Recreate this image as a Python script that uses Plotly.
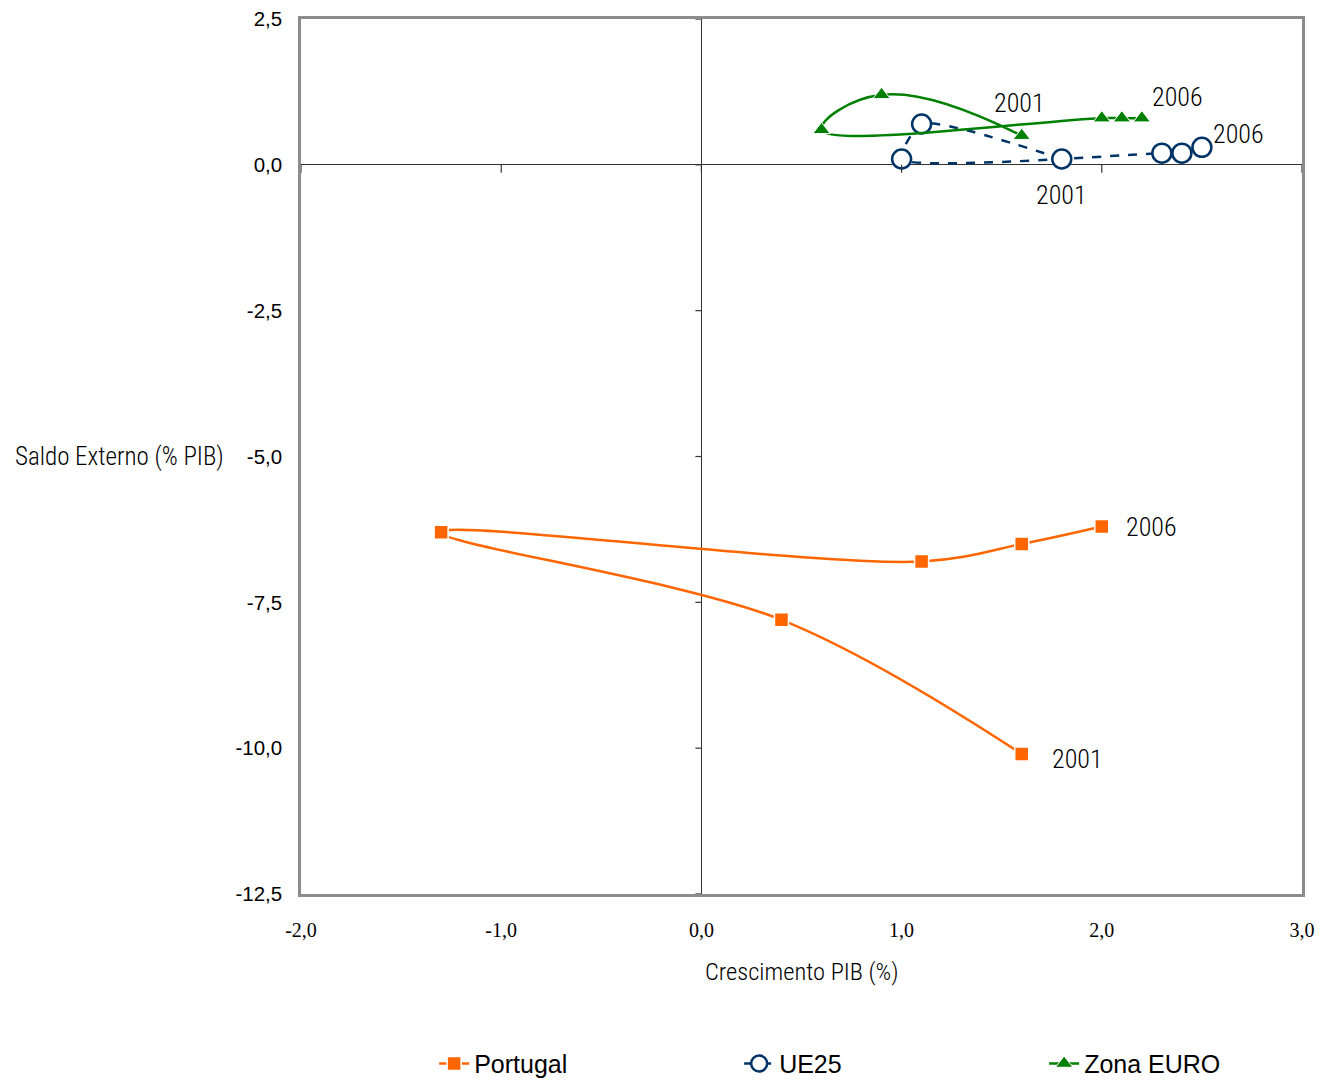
import plotly.graph_objects as go

years = [2001, 2002, 2003, 2004, 2005, 2006]

pt_x = [1.6, 0.4, -1.3, 1.1, 1.6, 2.0]
pt_y = [-10.1, -7.8, -6.3, -6.8, -6.5, -6.2]

ue_x = [1.8, 1.1, 1.0, 2.3, 2.4, 2.5]
ue_y = [0.1, 0.7, 0.1, 0.2, 0.2, 0.3]

ez_x = [1.6, 0.9, 0.6, 2.0, 2.1, 2.2]
ez_y = [0.5, 1.2, 0.6, 0.8, 0.8, 0.8]

x_ticks = [-2, -1, 0, 1, 2, 3]
x_tick_labels = ["-2,0", "-1,0", "0,0", "1,0", "2,0", "3,0"]
y_ticks = [2.5, 0, -2.5, -5, -7.5, -10, -12.5]
y_tick_labels = ["2,5", "0,0", "-2,5", "-5,0", "-7,5", "-10,0", "-12,5"]

ORANGE = "#FF6600"
NAVY = "#003366"
GREEN = "#008000"
NARROW = "Roboto Condensed, Liberation Sans Narrow, Arial Narrow, sans-serif"

fig = go.Figure()
fig.add_trace(go.Scatter(
    x=pt_x, y=pt_y, name="Portugal", mode="lines+markers",
    line=dict(color=ORANGE, width=2.5, shape="spline", smoothing=1),
    marker=dict(symbol="square", size=14, color=ORANGE, line=dict(color="white", width=1.5)),
))
fig.add_trace(go.Scatter(
    x=ue_x, y=ue_y, name="UE25", mode="lines+markers",
    line=dict(color=NAVY, width=2.5, dash="dash", shape="spline", smoothing=0.6),
    marker=dict(symbol="circle", size=19, color="white", line=dict(color=NAVY, width=2.5)),
))
fig.add_trace(go.Scatter(
    x=ez_x, y=ez_y, name="Zona EURO", mode="lines+markers",
    line=dict(color=GREEN, width=2.5, shape="spline", smoothing=1.3),
    marker=dict(symbol="triangle-up", size=15, color=GREEN, line=dict(color="white", width=1)),
))

# year labels (first and last points of each series)
label_font = dict(family=NARROW, size=26, color="black", weight=300)
ann = [
    (pt_x[-1], pt_y[-1], years[-1], "left", 22, 0),
    (pt_x[0], pt_y[0], years[0], "left", 28, -5),
    (ue_x[-1], ue_y[-1], years[-1], "left", 9, 13),
    (ue_x[0], ue_y[0], years[0], "center", 0, -36),
    (ez_x[-1], ez_y[-1], years[-1], "left", 8, 21),
    (ez_x[0], ez_y[0], years[0], "center", -2, 33),
]
for x, y, t, xa, xs, ys in ann:
    fig.add_annotation(x=x, y=y, xref="x", yref="y", text=str(t), showarrow=False,
                       xanchor=xa, yanchor="middle", xshift=xs, yshift=ys, font=label_font)

# tick marks on the zero-crossing axes
for xv in x_ticks:
    fig.add_shape(type="line", xref="x", yref="y", x0=xv, x1=xv, y0=0, y1=-8,
                  ysizemode="pixel", yanchor=0, line=dict(color="#333333", width=1.2))
for yv in y_ticks:
    fig.add_shape(type="line", xref="x", yref="y", y0=yv, y1=yv, x0=-6, x1=0,
                  xsizemode="pixel", xanchor=0, line=dict(color="#333333", width=1.2))

fig.add_annotation(x=-0.2877, xref="paper", y=-5, yref="y", text="Saldo Externo (% PIB)",
                   showarrow=False, xanchor="left", yanchor="middle",
                   font=dict(family=NARROW, size=25, color="black", weight=300))
fig.add_annotation(x=0.5, xref="paper", y=-0.089, yref="paper", text="Crescimento PIB (%)",
                   showarrow=False, xanchor="center", yanchor="middle",
                   font=dict(family=NARROW, size=24.5, color="black", weight=300))

fig.update_xaxes(
    range=[-2, 3], tickvals=x_ticks, ticktext=x_tick_labels, automargin=False,
    showgrid=False, zeroline=True, zerolinecolor="#333333", zerolinewidth=1.2,
    showline=True, mirror=True, linecolor="#8C8C8C", linewidth=2.5,
    ticks="outside", ticklen=16, tickcolor="rgba(0,0,0,0)", ticklabeloverflow="allow",
    tickfont=dict(family="Liberation Serif, Times New Roman, serif", size=20, color="black"),
)
fig.update_yaxes(
    range=[-12.5, 2.5], tickvals=y_ticks, ticktext=y_tick_labels, automargin=False,
    showgrid=False, zeroline=True, zerolinecolor="#333333", zerolinewidth=1.2,
    showline=True, mirror=True, linecolor="#8C8C8C", linewidth=2.5,
    ticks="outside", ticklen=12, tickcolor="rgba(0,0,0,0)", ticklabeloverflow="allow",
    tickfont=dict(family="Liberation Sans, Arial, sans-serif", size=20.5, color="black"),
)

fig.update_layout(
    width=1316, height=1072,
    margin=dict(l=293, r=22, t=11, b=186, autoexpand=False),
    paper_bgcolor="white", plot_bgcolor="white",
    showlegend=True,
    legend=dict(orientation="h", x=0.133, xanchor="left", y=-0.194, yanchor="middle",
                font=dict(family="Liberation Sans, Arial, sans-serif", size=25, color="black"),
                entrywidth=260, itemwidth=30, bgcolor="rgba(0,0,0,0)"),
)

fig.write_html("out.html")
